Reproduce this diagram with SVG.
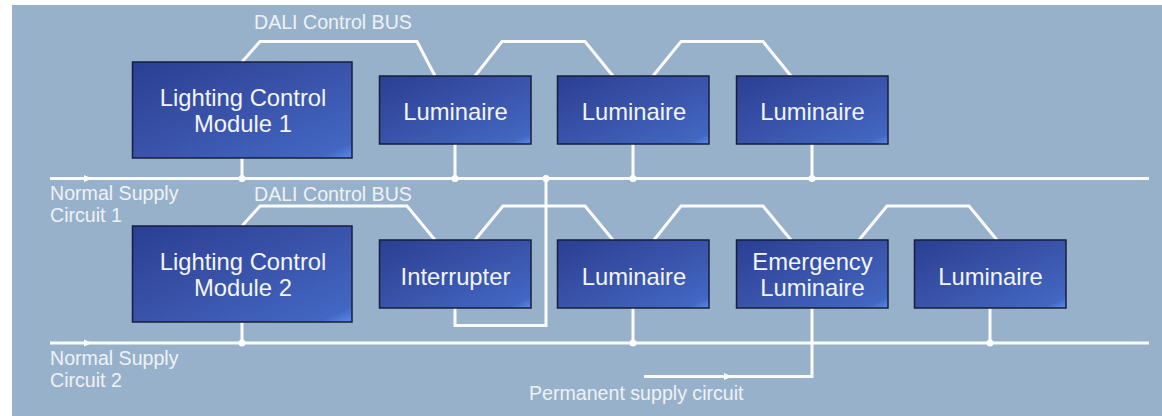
<svg xmlns="http://www.w3.org/2000/svg" width="1162" height="416" viewBox="0 0 1162 416">
<style>
.bx{fill:url(#g);stroke:#151f3d;stroke-width:1.5}
.t{font-family:"Liberation Sans",Arial,sans-serif;fill:#f2f5fa;text-anchor:middle;font-size:23.800px}
.s{font-family:"Liberation Sans",Arial,sans-serif;fill:#eef2f7;font-size:19.600px}
.w{fill:none;stroke:#fff;stroke-width:3;stroke-opacity:.95}
.d{fill:#fff}
</style>
<defs>
<linearGradient id="g" x1="0" y1="0" x2="1" y2="1">
<stop offset="0" stop-color="#2a3f92"/><stop offset=".5" stop-color="#3a53aa"/><stop offset=".92" stop-color="#4267c2"/><stop offset="1" stop-color="#5b8af0"/>
</linearGradient>
</defs>
<rect width="1162" height="416" fill="#fff"/>
<rect x="12" y="5" width="1150" height="411" fill="#98b1ca"/>
<g id="connectors">
<path class="w" d="M50 178.500H1149M50 343H1149"/>
<path class="w" d="M242 62L260 41.500H417L435 76M475 76L502 41.500H585L613 76M653 76L681 41.500H763L791 76"/>
<path class="w" d="M242 226L260 206H407L435 240M475 240L503 206H585L613 240M654 240L681 206H763L791 240M859 240L887 206H969L997 240"/>
<path class="w" d="M242 158V178M455 144V178M633 144V178M812 144V178M242 322V343M633 308V343M990 308V343"/>
<path class="w" d="M455 308V325.500H546V178M812 308V376.500H644"/>
<path class="d" d="M84 175L92 178.500L84 182ZM84 339.500L92 343L84 346.500ZM724 373L732 376.500L724 380Z"/>
<circle class="d" cx="242" cy="178.500" r="3.500"/><circle class="d" cx="455" cy="178.500" r="3.500"/><circle class="d" cx="546" cy="178.500" r="3.500"/><circle class="d" cx="633" cy="178.500" r="3.500"/><circle class="d" cx="812" cy="178.500" r="3.500"/>
<circle class="d" cx="242" cy="343" r="3.500"/><circle class="d" cx="633" cy="343" r="3.500"/><circle class="d" cx="990" cy="343" r="3.500"/>
</g>
<g id="lcm1"><rect class="bx" x="132.500" y="62" width="219.500" height="96"/><text class="t" x="243" y="105.500">Lighting Control</text><text class="t" x="243" y="131.500">Module 1</text></g>
<g id="lum1"><rect class="bx" x="379.500" y="76" width="151.500" height="68"/><text class="t" x="455.500" y="119.500">Luminaire</text></g>
<g id="lum2"><rect class="bx" x="557.500" y="76" width="151.500" height="68"/><text class="t" x="634" y="119.500">Luminaire</text></g>
<g id="lum3"><rect class="bx" x="736.500" y="76" width="151.500" height="68"/><text class="t" x="812.500" y="119.500">Luminaire</text></g>
<g id="lcm2"><rect class="bx" x="132.500" y="226" width="219.500" height="96"/><text class="t" x="243" y="269.500">Lighting Control</text><text class="t" x="243" y="295.500">Module 2</text></g>
<g id="interrupter"><rect class="bx" x="379.500" y="240" width="151.500" height="68"/><text class="t" x="455.500" y="284.500">Interrupter</text></g>
<g id="lum4"><rect class="bx" x="557.500" y="240" width="151.500" height="68"/><text class="t" x="634" y="284.500">Luminaire</text></g>
<g id="emergency"><rect class="bx" x="736.500" y="240" width="151.500" height="68"/><text class="t" x="812.500" y="269.500">Emergency</text><text class="t" x="812.500" y="295.500">Luminaire</text></g>
<g id="lum5"><rect class="bx" x="914.500" y="240" width="151.500" height="68"/><text class="t" x="990.500" y="284.500">Luminaire</text></g>
<g id="labels">
<text class="s" x="254" y="28.500">DALI Control BUS</text>
<text class="s" x="254" y="200.500">DALI Control BUS</text>
<text class="s" x="50" y="199.500">Normal Supply</text>
<text class="s" x="50" y="221.500">Circuit 1</text>
<text class="s" x="50" y="364.500">Normal Supply</text>
<text class="s" x="50" y="386.500">Circuit 2</text>
<text class="s" x="529" y="399.500">Permanent supply circuit</text>
</g>
</svg>
